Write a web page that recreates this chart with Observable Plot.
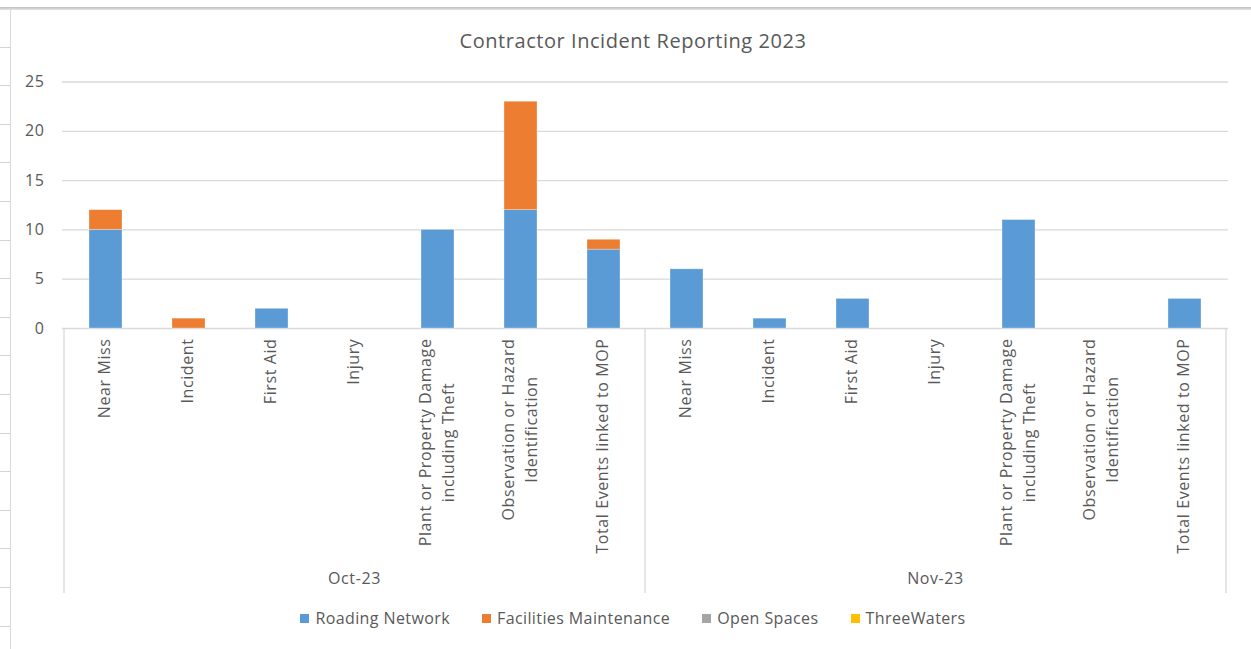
<!DOCTYPE html>
<html>
<head>
<meta charset="utf-8">
<script src="https://cdn.jsdelivr.net/npm/d3@7"></script>
<script src="https://cdn.jsdelivr.net/npm/@observablehq/plot@0.6"></script>
<style>
  html, body { margin: 0; padding: 0; background: #fff; }
  #wrap { position: relative; width: 1251px; height: 649px; overflow: hidden; font-family: "Open Sans", sans-serif; color: #595959; }
  #topline { position: absolute; left: 0; top: 7px; width: 1251px; height: 3px; background: linear-gradient(to bottom, #bdbdbd, #e6e6e6); }
  #leftline { position: absolute; left: 10px; top: 10px; width: 1px; height: 639px; background: #d9d9d9; }
  #rowticks { position: absolute; left: 0; top: 9px; width: 10px; height: 640px;
    background: repeating-linear-gradient(to bottom, transparent 0px, transparent 37.6px, #d4d4d4 37.6px, #d4d4d4 38.6px); }
  #title { position: absolute; left: 10px; width: 1246px; top: 29px; text-align: center; font-size: 20px; letter-spacing: 0.55px; line-height: 24px; color: #595959; }
  #chart { position: absolute; left: 0; top: 70px; }
  #legend { position: absolute; left: 10px; width: 1246px; top: 607px; display: flex; justify-content: center; gap: 32px; font-size: 16px; letter-spacing: 0.4px; line-height: 22px; }
  .item { display: flex; align-items: center; gap: 6px; }
  .sw { width: 9px; height: 9px; display: inline-block; }
</style>
</head>
<body>
<div id="wrap">
  <div id="topline"></div>
  <div id="leftline"></div>
  <div id="rowticks"></div>
  <div id="title"></div>
  <div id="chart"></div>
  <div id="legend"></div>
</div>
<script>
const titleText = "Contractor Incident Reporting 2023";
const months = ["Oct-23", "Nov-23"];
const categories = [
  "Near Miss",
  "Incident",
  "First Aid",
  "Injury",
  "Plant or Property Damage\nincluding Theft",
  "Observation or Hazard\nIdentification",
  "Total Events linked to MOP"
];
const seriesNames = ["Roading Network", "Facilities Maintenance", "Open Spaces", "ThreeWaters"];
const seriesColors = ["#5B9BD5", "#ED7D31", "#A5A5A5", "#FFC000"];

// values per category, in the order of `categories`
const roadingOct     = [10, 0, 2, 0, 10, 12, 8];
const facilitiesOct  = [2, 1, 0, 0, 0, 11, 1];
const openSpacesOct  = [0, 0, 0, 0, 0, 0, 0];
const threeWatersOct = [0, 0, 0, 0, 0, 0, 0];
const roadingNov     = [6, 1, 3, 0, 11, 0, 3];
const facilitiesNov  = [0, 0, 0, 0, 0, 0, 0];
const openSpacesNov  = [0, 0, 0, 0, 0, 0, 0];
const threeWatersNov = [0, 0, 0, 0, 0, 0, 0];
const yTicks = [0, 5, 10, 15, 20, 25];

const seriesByMonth = {
  "Oct-23": [roadingOct, facilitiesOct, openSpacesOct, threeWatersOct],
  "Nov-23": [roadingNov, facilitiesNov, openSpacesNov, threeWatersNov]
};

const keyOf = (m, c) => m + "|" + c;
const keys = months.flatMap(m => categories.map(c => keyOf(m, c)));
const rows = [];
for (const m of months) {
  seriesByMonth[m].forEach((vals, si) => {
    vals.forEach((v, ci) => {
      rows.push({key: keyOf(m, categories[ci]), month: m, category: categories[ci], series: seriesNames[si], value: v});
    });
  });
}

document.getElementById("title").textContent = titleText;

const W = 1251, H = 530;
const plot = Plot.plot({
  width: W,
  height: H,
  marginLeft: 62,
  marginRight: 23,
  marginTop: 11.5,
  marginBottom: 272,
  style: {fontFamily: "Open Sans, sans-serif", fontSize: "16px", color: "#595959", background: "transparent", letterSpacing: "0.6px"},
  x: {domain: keys, paddingInner: 0.6, paddingOuter: 0.3, label: null},
  y: {domain: [0, 25], label: null},
  color: {domain: seriesNames, range: seriesColors},
  marks: [
    Plot.gridY(yTicks, {stroke: "#d9d9d9", strokeOpacity: 1, strokeWidth: 1.3}),
    Plot.barY(rows, {x: "key", y: "value", fill: "series", order: seriesNames, stroke: "#ffffff", strokeOpacity: 0.5, strokeWidth: 0.6}),
    Plot.axisY(yTicks, {tickSize: 0, tickPadding: 18, fontSize: 16, label: null}),
    Plot.axisX({tickRotate: -90, tickSize: 0, tickPadding: 10, dx: -3, fontSize: 16, lineHeight: 1.45, label: null,
      tickFormat: k => k.split("|")[1]})
  ]
});
document.getElementById("chart").appendChild(plot);

// Center the lines of multi-line category labels (Excel style)
plot.querySelectorAll('g[aria-label="x-axis tick label"] text').forEach(t => {
  const spans = t.querySelectorAll("tspan");
  if (spans.length > 1) {
    const lens = Array.from(spans, s => s.getComputedTextLength());
    const L = Math.max(...lens);
    spans.forEach((s, i) => s.setAttribute("x", -(L - lens[i]) / 2));
  }
});

// Group boxes (separators) and month labels, positioned with Plot's scales
const xs = plot.scale("x");
const ys = plot.scale("y");
const step = xs.step, bw = xs.bandwidth;
const y0 = ys.apply(0);
const yBottom = H - 7;
const svg = d3.select(plot);
const g = svg.append("g");
const bounds = [];
months.forEach((m, mi) => {
  const first = xs.apply(keyOf(m, categories[0])) - (step - bw) / 2;
  const last = xs.apply(keyOf(m, categories[categories.length - 1])) + bw + (step - bw) / 2;
  if (mi === 0) bounds.push(first);
  bounds.push(last);
  g.append("text")
    .attr("x", (first + last) / 2)
    .attr("y", yBottom - 9)
    .attr("text-anchor", "middle")
    .attr("font-size", 16)
    .attr("fill", "#595959")
    .text(m);
});
bounds.forEach(b => {
  g.append("line")
    .attr("x1", b).attr("x2", b)
    .attr("y1", y0).attr("y2", yBottom)
    .attr("stroke", "#d9d9d9").attr("stroke-width", 1.3);
});

// Legend
const legend = document.getElementById("legend");
seriesNames.forEach((s, i) => {
  const it = document.createElement("div");
  it.className = "item";
  const sw = document.createElement("span");
  sw.className = "sw";
  sw.style.background = seriesColors[i];
  const lb = document.createElement("span");
  lb.textContent = s;
  it.appendChild(sw);
  it.appendChild(lb);
  legend.appendChild(it);
});
</script>
</body>
</html>
